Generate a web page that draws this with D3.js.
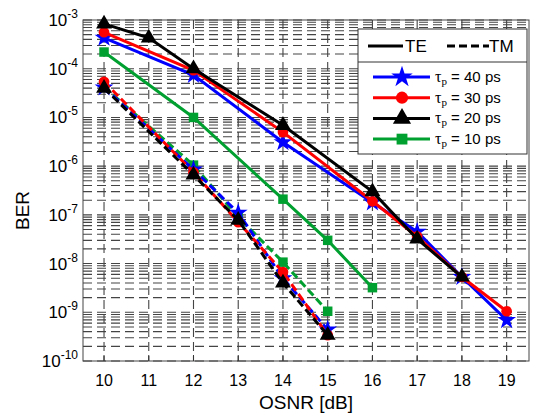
<!DOCTYPE html>
<html>
<head>
<meta charset="utf-8">
<script src="https://cdn.jsdelivr.net/npm/d3@7"></script>
<style>
  body { margin: 0; background: #fff; }
  text { font-family: "Liberation Sans", Arial, sans-serif; }
</style>
</head>
<body>
<script>
// data
let osnrTicks = [10, 11, 12, 13, 14, 15, 16, 17, 18, 19];
let decades = [-3, -4, -5, -6, -7, -8, -9, -10];
let pulseLabels = ["40", "30", "20", "10"];
let colors = ["#0000ff", "#ff0000", "#000000", "#00a030"];
let symbols = [d3.symbolStar, d3.symbolCircle, d3.symbolTriangle, d3.symbolSquare];

let teX40 = [10, 12, 14, 16, 17, 18, 19];
let teY40 = [4.3e-4, 7.4e-5, 3.1e-6, 1.8e-7, 4.5e-8, 5.3e-9, 6.9e-10];
let teX30 = [10, 12, 14, 16, 17, 18, 19];
let teY30 = [5.6e-4, 9.3e-5, 5.0e-6, 1.9e-7, 3.6e-8, 5.3e-9, 1.05e-9];
let teX20 = [10, 11, 12, 14, 16, 17, 18];
let teY20 = [8.3e-4, 4.3e-4, 1.0e-4, 6.9e-6, 3.0e-7, 3.2e-8, 5.3e-9];
let teX10 = [10, 12, 14, 15, 16];
let teY10 = [2.2e-4, 1.0e-5, 2.1e-7, 3.0e-8, 3.2e-9];

let tmX = [10, 12, 13, 14, 15];
let tmY40 = [4.1e-5, 8.5e-7, 1.1e-7, 5.0e-9, 4.4e-10];
let tmY30 = [5.4e-5, 7.5e-7, 7.1e-8, 6.7e-9, 3.4e-10];
let tmY20 = [4.0e-5, 6.6e-7, 7.8e-8, 4.0e-9, 3.4e-10];
let tmY10 = [4.2e-5, 1.05e-6, 9.0e-8, 1.07e-8, 1.05e-9];

let svgWidth = 533, svgHeight = 415;
let margins = { left: 83, top: 20, right: 4, bottom: 54 };
let width = svgWidth - margins.left - margins.right;
let height = svgHeight - margins.top - margins.bottom;

let svg = d3.select("body").append("svg")
  .attr("width", svgWidth)
  .attr("height", svgHeight);
let container = svg.append("g")
  .attr("transform", `translate(${margins.left}, ${margins.top})`);

let xScale = d3.scaleLinear().domain([9.53, 19.5]).range([0, width]);
let yScale = d3.scaleLog().domain([1e-10, 1e-3]).range([height, 0]);

// grid: dashed lines at every log tick and every x tick
let gridColor = "#444";
let yGrid = yScale.ticks();
container.selectAll(".hgrid").data(yGrid).join("line")
  .attr("x1", 0).attr("x2", width)
  .attr("y1", d => yScale(d)).attr("y2", d => yScale(d))
  .attr("stroke", gridColor).attr("stroke-width", 1.1)
  .attr("stroke-dasharray", "9,5");
container.selectAll(".vgrid").data(osnrTicks).join("line")
  .attr("x1", d => xScale(d)).attr("x2", d => xScale(d))
  .attr("y1", 0).attr("y2", height)
  .attr("stroke", gridColor).attr("stroke-width", 1.1)
  .attr("stroke-dasharray", "9,5");

// frame
container.append("rect")
  .attr("width", width).attr("height", height)
  .attr("fill", "none").attr("stroke", "#444").attr("stroke-width", 1);

// x ticks
container.selectAll(".xtick").data(osnrTicks).join("line")
  .attr("x1", d => xScale(d)).attr("x2", d => xScale(d))
  .attr("y1", height).attr("y2", height - 6)
  .attr("stroke", "#333");
svg.selectAll(".xlab").data(osnrTicks).join("text")
  .attr("x", d => margins.left + xScale(d))
  .attr("y", margins.top + height + 25)
  .attr("text-anchor", "middle")
  .attr("font-size", 16)
  .text(d => d);

// y tick labels 10^n
let yLabs = svg.selectAll(".ylab").data(decades).join("text")
  .attr("x", margins.left - 5)
  .attr("y", d => margins.top + yScale(Math.pow(10, d)) + 6)
  .attr("text-anchor", "end")
  .attr("font-size", 17);
yLabs.append("tspan").text("10");
yLabs.append("tspan").attr("dy", -8).attr("font-size", 12).text(d => d);

// axis titles
svg.append("text")
  .attr("x", margins.left + width / 2)
  .attr("y", 409)
  .attr("text-anchor", "middle")
  .attr("font-size", 19)
  .text("OSNR [dB]");
svg.append("text")
  .attr("transform", `translate(29, ${margins.top + height / 2 + 20}) rotate(-90)`)
  .attr("text-anchor", "middle")
  .attr("font-size", 19)
  .text("BER");

// series
let teSeries = [
  { x: teX40, y: teY40 }, { x: teX30, y: teY30 },
  { x: teX20, y: teY20 }, { x: teX10, y: teY10 }
];
let tmSeries = [tmY40, tmY30, tmY20, tmY10].map(y => ({ x: tmX, y: y }));

let line = d3.line().x(d => xScale(d[0])).y(d => yScale(d[1]));
let markerSizes = [110, 90, 110, 90];

function drawSeries(s, i, dashed) {
  let pts = s.x.map((x, j) => [x, s.y[j]]);
  container.append("path")
    .attr("d", line(pts))
    .attr("fill", "none")
    .attr("stroke", colors[i])
    .attr("stroke-width", 3)
    .attr("stroke-dasharray", dashed ? "8,4" : null);
  container.selectAll(null).data(pts).join("path")
    .attr("transform", d => `translate(${xScale(d[0])}, ${yScale(d[1])})`)
    .attr("d", d3.symbol().type(symbols[i]).size(markerSizes[i]))
    .attr("fill", colors[i]);
}
// TM dashed drawn first, then TE
[3, 0, 1, 2].forEach(i => drawSeries(tmSeries[i], i, true));
[3, 0, 1, 2].forEach(i => drawSeries(teSeries[i], i, false));

// legend
let lg = svg.append("g");
lg.append("rect")
  .attr("x", 358).attr("y", 29).attr("width", 169).attr("height", 125)
  .attr("fill", "#fff").attr("stroke", "#333").attr("stroke-width", 1);
lg.append("line").attr("x1", 358).attr("x2", 527).attr("y1", 62).attr("y2", 62)
  .attr("stroke", "#333");
lg.append("line").attr("x1", 368).attr("x2", 403).attr("y1", 46).attr("y2", 46)
  .attr("stroke", "#000").attr("stroke-width", 3);
lg.append("text").attr("x", 405).attr("y", 52).attr("font-size", 17).text("TE");
lg.append("line").attr("x1", 447).attr("x2", 489).attr("y1", 46).attr("y2", 46)
  .attr("stroke", "#000").attr("stroke-width", 3).attr("stroke-dasharray", "8,4");
lg.append("text").attr("x", 489).attr("y", 52).attr("font-size", 17).text("TM");

let items = lg.selectAll(".item").data(pulseLabels).join("g")
  .attr("transform", (d, i) => `translate(0, ${77 + i * 20.7})`);
items.append("line")
  .attr("x1", 373).attr("x2", 430)
  .attr("stroke", (d, i) => colors[i]).attr("stroke-width", 3);
items.append("path")
  .attr("transform", "translate(402, 0)")
  .attr("d", (d, i) => d3.symbol().type(symbols[i]).size(markerSizes[i] * 1.3)())
  .attr("fill", (d, i) => colors[i]);
let lt = items.append("text").attr("x", 435).attr("y", 5).attr("font-size", 15);
lt.append("tspan").attr("font-family", "Liberation Serif, serif").attr("font-size", 16).text("τ");
lt.append("tspan").attr("font-family", "Liberation Serif, serif").attr("font-size", 11).attr("dy", 3).text("p");
lt.append("tspan").attr("dy", -3).text(d => ` = ${d} ps`);
</script>
</body>
</html>
